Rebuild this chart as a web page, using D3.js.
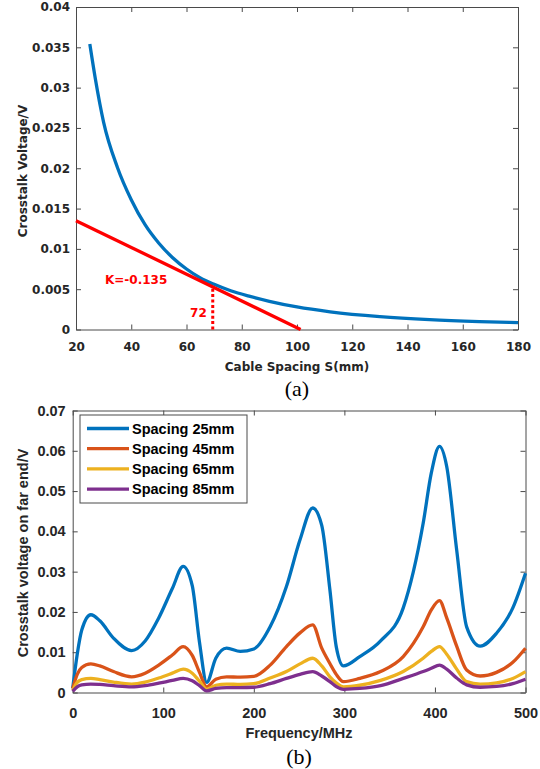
<!DOCTYPE html>
<html>
<head>
<meta charset="utf-8">
<script src="https://cdn.jsdelivr.net/npm/d3@7"></script>
<style>
  body { margin: 0; background: #fff; }
  svg { display: block; }
  .tick text { fill: #262626; }
</style>
</head>
<body>
<div id="chart"></div>
<script>
// ---- panel (a) data ----
const spacingMm = [25, 27, 30, 35, 40, 45, 50, 55, 60, 65, 70, 76, 83, 90, 100, 112, 130, 148, 166, 180];
const crosstalkV = [0.0354, 0.0311, 0.0257, 0.0201, 0.0161, 0.0130, 0.0107, 0.0089, 0.0075, 0.0064, 0.0056,
    0.0048, 0.0041, 0.0035, 0.0028, 0.0022, 0.0016, 0.00122, 0.00098, 0.00085];
const tangentMm = [20, 101.3];
const tangentV = [0.0135, 0];
const markerMm = 69.5;
const markerV = 0.0053;
const slopeLabel = "K=-0.135";
const markerLabel = "72";
const xTicksA = [20, 40, 60, 80, 100, 120, 140, 160, 180];
const yTicksA = [0, 0.005, 0.01, 0.015, 0.02, 0.025, 0.03, 0.035, 0.04];
const yLabelsA = ["0", "0.005", "0.01", "0.015", "0.02", "0.025", "0.03", "0.035", "0.04"];

// ---- panel (b) data ----
const freqMHz = [0, 5, 10, 20, 30, 45, 65, 80, 95, 110, 122, 132, 140, 148, 158, 170, 185, 200, 218, 236,
    251, 265, 275, 284, 291, 299, 317, 340, 365, 387, 396, 405, 413, 424, 435, 450, 468, 486, 500];
const spacing25 = [0.001, 0.0095, 0.0155, 0.0193, 0.0178, 0.0135, 0.0104, 0.0128, 0.0185, 0.0258,
    0.0313, 0.0265, 0.0125, 0.0025, 0.0085, 0.011, 0.0102, 0.0108, 0.0163, 0.0263,
    0.0379, 0.0458, 0.0415, 0.0255, 0.0114, 0.0066, 0.0089, 0.0128, 0.021, 0.042,
    0.0545, 0.0611, 0.0561, 0.0354, 0.0163, 0.0115, 0.0147, 0.021, 0.0296];
const spacing45 = [0.001, 0.0045, 0.0062, 0.0071, 0.0066, 0.0052, 0.0039, 0.0048, 0.0068, 0.0093,
    0.0114, 0.0092, 0.005, 0.0014, 0.0033, 0.0039, 0.0038, 0.004, 0.0068, 0.0114,
    0.0148, 0.0168, 0.011, 0.0072, 0.0045, 0.0027, 0.0035, 0.0052, 0.0089, 0.0163,
    0.0205, 0.0228, 0.0185, 0.0115, 0.0056, 0.0041, 0.005, 0.0075, 0.011];
const spacing65 = [0.0005, 0.0025, 0.0032, 0.0035, 0.0032, 0.0026, 0.0021, 0.0026, 0.0036, 0.0048,
    0.0058, 0.0048, 0.0028, 0.0008, 0.0018, 0.0021, 0.002, 0.0022, 0.0036, 0.0052,
    0.0071, 0.0085, 0.0066, 0.0039, 0.0024, 0.0014, 0.0018, 0.003, 0.0052, 0.0085,
    0.0102, 0.0114, 0.0095, 0.0058, 0.0027, 0.0021, 0.0024, 0.0035, 0.0052];
const spacing85 = [0.0003, 0.0014, 0.0019, 0.0021, 0.002, 0.0017, 0.0014, 0.0017, 0.0023, 0.003,
    0.0035, 0.0029, 0.0017, 0.0004, 0.001, 0.0012, 0.0012, 0.0013, 0.0022, 0.0035,
    0.0045, 0.0052, 0.0041, 0.0027, 0.0015, 0.0008, 0.001, 0.0017, 0.0035, 0.0052,
    0.006, 0.0068, 0.0058, 0.0036, 0.0019, 0.0013, 0.0015, 0.0022, 0.0033];
const seriesNames = ["Spacing 25mm", "Spacing 45mm", "Spacing 65mm", "Spacing 85mm"];
const seriesColors = ["#0072BD", "#D95319", "#EDB120", "#7E2F8E"];
const xTicksB = [0, 100, 200, 300, 400, 500];
const yTicksB = [0, 0.01, 0.02, 0.03, 0.04, 0.05, 0.06, 0.07];
const yLabelsB = ["0", "0.01", "0.02", "0.03", "0.04", "0.05", "0.06", "0.07"];

const width = 540, height = 769;
const axisColor = "#4a4a4a";

const svg = d3.select("#chart").append("svg")
    .attr("width", width)
    .attr("height", height);

// draws a boxed matlab-style frame, ticks pointing inward on all four sides
function drawFrame(x, y, xTicks, yTicks, yLabels, opts) {
    const g = svg.append("g");
    const [x0, x1] = x.range();
    const [y0, y1] = y.range();
    const style = sel => {
        sel.select(".domain").attr("stroke", axisColor).attr("stroke-width", 1);
        sel.selectAll(".tick line").attr("stroke", axisColor);
        sel.selectAll("text")
            .attr("font-family", opts.font)
            .attr("font-weight", "bold")
            .attr("font-size", opts.size);
    };
    g.append("g").attr("transform", `translate(0,${y0})`)
        .call(d3.axisBottom(x).tickValues(xTicks).tickSizeInner(-5).tickSizeOuter(0)
            .tickPadding(opts.xPad).tickFormat(d3.format("d")))
        .call(style);
    g.append("g").attr("transform", `translate(0,${y1})`)
        .call(d3.axisTop(x).tickValues(xTicks).tickSizeInner(-5).tickSizeOuter(0).tickFormat(""))
        .call(style);
    g.append("g").attr("transform", `translate(${x0},0)`)
        .call(d3.axisLeft(y).tickValues(yTicks).tickSizeInner(-5).tickSizeOuter(0)
            .tickPadding(opts.yPad).tickFormat((d, i) => yLabels[i]))
        .call(style);
    g.append("g").attr("transform", `translate(${x1},0)`)
        .call(d3.axisRight(y).tickValues(yTicks).tickSizeInner(-5).tickSizeOuter(0).tickFormat(""))
        .call(style);
    return g;
}

function axisTitle(text, x, y, rotate, font, size) {
    svg.append("text")
        .attr("transform", `translate(${x},${y})` + (rotate ? " rotate(-90)" : ""))
        .attr("text-anchor", "middle")
        .attr("font-family", font)
        .attr("font-weight", "bold")
        .attr("font-size", size)
        .attr("fill", "#262626")
        .text(text);
}

function panelLabel(text, x, y) {
    svg.append("text")
        .attr("x", x).attr("y", y)
        .attr("text-anchor", "middle")
        .attr("font-family", "Liberation Serif, Times New Roman, serif")
        .attr("font-size", 22)
        .attr("fill", "#000")
        .text(text);
}

// ---------- panel (a) ----------
const fontA = "DejaVu Sans, sans-serif";
const xA = d3.scaleLinear().domain([20, 180]).range([76, 518]);
const yA = d3.scaleLinear().domain([0, 0.04]).range([329.5, 7]);

drawFrame(xA, yA, xTicksA, yTicksA, yLabelsA, { font: fontA, size: 12, xPad: 13, yPad: 6 });

const curveA = spacingMm.map((s, i) => ({ x: s, y: crosstalkV[i] }));
svg.append("path")
    .datum(curveA)
    .attr("fill", "none")
    .attr("stroke", "#0072BD")
    .attr("stroke-width", 3.3)
    .attr("d", d3.line().x(d => xA(d.x)).y(d => yA(d.y)).curve(d3.curveMonotoneX));

const tangent = tangentMm.map((s, i) => ({ x: s, y: tangentV[i] }));
svg.append("path")
    .datum(tangent)
    .attr("fill", "none")
    .attr("stroke", "#FF0000")
    .attr("stroke-width", 3.3)
    .attr("d", d3.line().x(d => xA(d.x)).y(d => yA(d.y)));

// dotted marker down to the axis
svg.append("line")
    .attr("x1", xA(markerMm)).attr("x2", xA(markerMm))
    .attr("y1", yA(0)).attr("y2", yA(markerV))
    .attr("stroke", "#FF0000")
    .attr("stroke-width", 3)
    .attr("stroke-dasharray", "3,2.4");

svg.append("text")
    .attr("x", xA(markerMm) - 6).attr("y", yA(0.0015))
    .attr("text-anchor", "end")
    .attr("font-family", fontA).attr("font-weight", "bold").attr("font-size", 12)
    .attr("fill", "#FF0000")
    .text(markerLabel);

svg.append("text")
    .attr("x", 105).attr("y", 284)
    .attr("font-family", fontA).attr("font-weight", "bold").attr("font-size", 12)
    .attr("fill", "#FF0000")
    .text(slopeLabel);

axisTitle("Cable Spacing S(mm)", 297, 371, false, fontA, 12);
axisTitle("Crosstalk Voltage/V", 27, 171, true, fontA, 12);
panelLabel("(a)", 297, 396);

// ---------- panel (b) ----------
const fontB = "Liberation Sans, Arial, sans-serif";
const xB = d3.scaleLinear().domain([0, 500]).range([72.7, 525.5]);
const yB = d3.scaleLinear().domain([0, 0.07]).range([692.5, 410.5]);

drawFrame(xB, yB, xTicksB, yTicksB, yLabelsB, { font: fontB, size: 14.5, xPad: 15, yPad: 7 });

const allSeries = [spacing25, spacing45, spacing65, spacing85];
const lineB = d3.line().x(d => xB(d.x)).y(d => yB(d.y)).curve(d3.curveMonotoneX);

allSeries.forEach((vals, i) => {
    svg.append("path")
        .datum(freqMHz.map((f, j) => ({ x: f, y: vals[j] })))
        .attr("fill", "none")
        .attr("stroke", seriesColors[i])
        .attr("stroke-width", 3.3)
        .attr("stroke-linejoin", "round")
        .attr("d", lineB);
});

// legend
const legend = svg.append("g").attr("transform", "translate(80,415)");
legend.append("rect")
    .attr("width", 167).attr("height", 88)
    .attr("fill", "#fff")
    .attr("stroke", axisColor)
    .attr("stroke-width", 1);
seriesNames.forEach((name, i) => {
    const yy = 13.5 + i * 20.2;
    legend.append("line")
        .attr("x1", 7).attr("x2", 49)
        .attr("y1", yy).attr("y2", yy)
        .attr("stroke", seriesColors[i])
        .attr("stroke-width", 3.3);
    legend.append("text")
        .attr("x", 52).attr("y", yy)
        .attr("dy", "0.35em")
        .attr("font-family", fontB).attr("font-weight", "bold").attr("font-size", 14.5)
        .attr("fill", "#000")
        .text(name);
});

axisTitle("Frequency/MHz", 299, 738, false, fontB, 14.5);
axisTitle("Crosstalk voltage on far end/V", 28, 553, true, fontB, 14.5);
panelLabel("(b)", 299, 764);
</script>
</body>
</html>
